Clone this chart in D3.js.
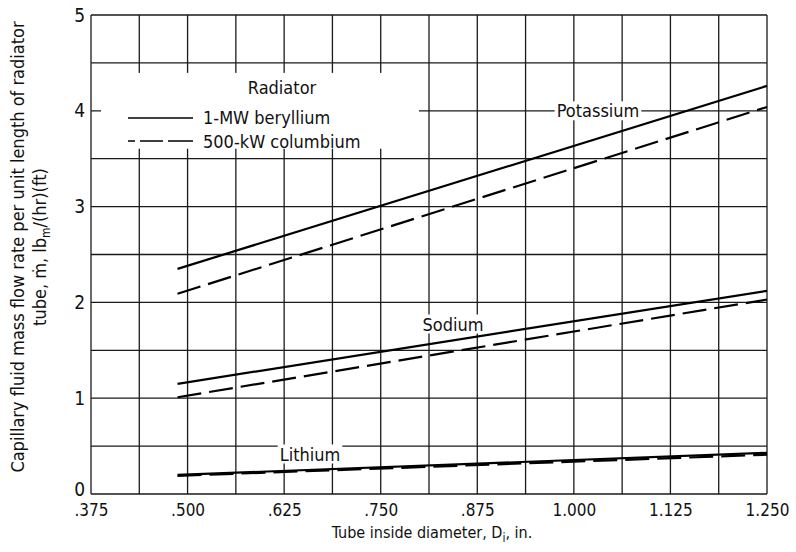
<!DOCTYPE html>
<html>
<head>
<meta charset="utf-8">
<script src="https://cdn.jsdelivr.net/npm/d3@7"></script>
<style>
  html, body { margin: 0; padding: 0; background: #fff; }
  svg { display: block; }
  text { font-family: "Liberation Sans Narrow", "DejaVu Sans Condensed", "Roboto Condensed", "Liberation Sans", sans-serif; fill: #111; }
</style>
</head>
<body>
<svg id="chart" width="796" height="552"></svg>
<script>
// Tube inside diameter, in. (end points of each computed line)
const diameters = [0.487, 1.25];

// Capillary fluid mass flow rate, lbm/(hr)(ft)
const potassiumBeryllium = [2.35, 4.26];
const potassiumColumbium = [2.09, 4.04];
const sodiumBeryllium    = [1.15, 2.12];
const sodiumColumbium    = [1.01, 2.03];
const lithiumBeryllium   = [0.20, 0.43];
const lithiumColumbium   = [0.19, 0.41];

// Axis ticks
const xTickValues = [0.375, 0.5, 0.625, 0.75, 0.875, 1.0, 1.125, 1.25];
const xTickLabels = [".375", ".500", ".625", ".750", ".875", "1.000", "1.125", "1.250"];
const yTickValues = [0, 1, 2, 3, 4, 5];
const xGridStep = 0.0625;
const yGridStep = 0.5;

const svg = d3.select("#chart");
const x = d3.scaleLinear().domain([0.375, 1.25]).range([91, 767]);
const y = d3.scaleLinear().domain([0, 5]).range([494, 15]);

const ink = "#1a1a1a";
const fontList = "'Liberation Sans Narrow', 'DejaVu Sans Condensed', sans-serif";

// grid
const xGrid = d3.range(0.375, 1.25 + 1e-9, xGridStep);
const yGrid = d3.range(0, 5 + 1e-9, yGridStep);
const grid = svg.append("g");
grid.selectAll("line.v").data(xGrid).join("line")
  .attr("x1", d => x(d)).attr("x2", d => x(d))
  .attr("y1", y(0)).attr("y2", y(5))
  .attr("stroke", ink).attr("stroke-width", 1.3);
grid.selectAll("line.h").data(yGrid).join("line")
  .attr("y1", d => y(d)).attr("y2", d => y(d))
  .attr("x1", x(0.375)).attr("x2", x(1.25))
  .attr("stroke", ink).attr("stroke-width", 1.3);

// clear the legend cell, leaving short tick stubs on its edges
const legendBox = { x0: 0.375, x1: 0.8125, y0: 3.5, y1: 4.5 };
svg.append("rect")
  .attr("x", x(legendBox.x0) + 10)
  .attr("y", y(legendBox.y1) + 10)
  .attr("width", x(legendBox.x1) - x(legendBox.x0) - 20)
  .attr("height", y(legendBox.y0) - y(legendBox.y1) - 20)
  .attr("fill", "#fff");

// axes tick labels
const xAxis = d3.axisBottom(x).tickValues(xTickValues)
  .tickFormat((d, i) => xTickLabels[i]).tickSize(0).tickPadding(10);
const gx = svg.append("g").attr("transform", `translate(0,${y(0)})`).call(xAxis);
gx.select(".domain").remove();
gx.selectAll("text").attr("font-size", 17).style("fill", "#111")
  .attr("font-family", fontList);

const yAxis = d3.axisLeft(y).tickValues(yTickValues).tickFormat(d3.format("d"))
  .tickSize(0).tickPadding(6);
const gy = svg.append("g").attr("transform", `translate(${x(0.375)},0)`).call(yAxis);
gy.select(".domain").remove();
gy.selectAll("text").attr("font-size", 19).style("fill", "#111")
  .attr("font-family", fontList)
  .attr("dy", d => d === 0 ? "0.1em" : "0.32em");

// data lines
const line = d3.line().x(d => x(d[0])).y(d => y(d[1]));
const series = [
  { v: potassiumBeryllium, dash: null },
  { v: potassiumColumbium, dash: "24,8" },
  { v: sodiumBeryllium, dash: null },
  { v: sodiumColumbium, dash: "24,8" },
  { v: lithiumBeryllium, dash: null },
  { v: lithiumColumbium, dash: "24,8" }
];
svg.append("g").selectAll("path").data(series).join("path")
  .attr("d", s => line(diameters.map((d, i) => [d, s.v[i]])))
  .attr("fill", "none").attr("stroke", "#000").attr("stroke-width", 2.2)
  .attr("stroke-dasharray", s => s.dash);

// series labels on white backing
function boxedLabel(text, cx, cy, size) {
  const g = svg.append("g");
  const t = g.append("text").attr("x", cx).attr("y", cy)
    .attr("text-anchor", "middle").attr("dominant-baseline", "central")
    .attr("font-size", size).text(text);
  const b = t.node().getBBox();
  g.insert("rect", "text").attr("x", b.x - 2).attr("y", b.y + 1)
    .attr("width", b.width + 4).attr("height", b.height - 2).attr("fill", "#fff");
}
boxedLabel("Potassium", 598, y(4.0), 18);
boxedLabel("Sodium", 453, 324, 18);
boxedLabel("Lithium", 310, 454, 18);

// legend
svg.append("text").attr("x", 282).attr("y", 94).attr("text-anchor", "middle")
  .attr("font-size", 18).text("Radiator");
svg.append("line").attr("x1", 128).attr("x2", 193).attr("y1", 118).attr("y2", 118)
  .attr("stroke", "#000").attr("stroke-width", 1.6);
svg.append("text").attr("x", 203).attr("y", 124).attr("font-size", 18).text("1-MW beryllium");
svg.append("line").attr("x1", 128).attr("x2", 193).attr("y1", 141).attr("y2", 141)
  .attr("stroke", "#000").attr("stroke-width", 1.6).attr("stroke-dasharray", "7,5,23,5,25,100");
svg.append("text").attr("x", 203).attr("y", 148).attr("font-size", 18).text("500-kW columbium");

// axis titles
const xt = svg.append("text").attr("x", 432).attr("y", 538).attr("text-anchor", "middle")
  .attr("font-size", 16);
xt.append("tspan").text("Tube inside diameter, D");
xt.append("tspan").attr("font-size", 12).attr("dy", 4).text("i");
xt.append("tspan").attr("dy", -4).text(", in.");

const yt = svg.append("g").attr("transform", "translate(0,247) rotate(-90)");
yt.append("text").attr("x", 0).attr("y", 24).attr("text-anchor", "middle")
  .attr("font-size", 18).text("Capillary fluid mass flow rate per unit length of radiator");
const yt2 = yt.append("text").attr("x", 0).attr("y", 46).attr("text-anchor", "middle")
  .attr("font-size", 18);
yt2.append("tspan").text("tube, m\u0307, lb");
yt2.append("tspan").attr("font-size", 12).attr("dy", 4).text("m");
yt2.append("tspan").attr("dy", -4).text("/(hr)(ft)");
</script>
</body>
</html>
